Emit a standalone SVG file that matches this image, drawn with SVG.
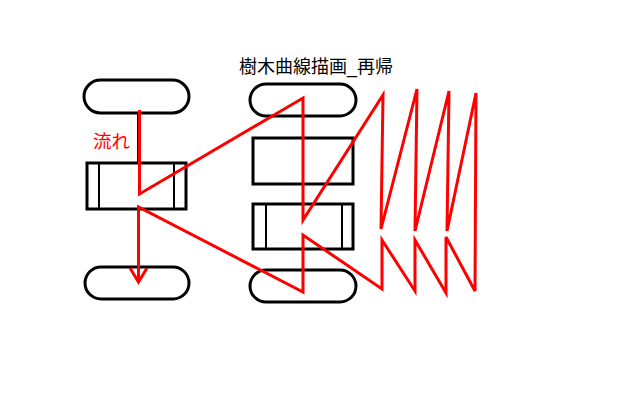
<svg xmlns="http://www.w3.org/2000/svg" width="638" height="400" viewBox="0 0 638 400">
<style>
.shape{fill:#fff;stroke:#000;stroke-width:3}
.inner{fill:none;stroke:#000;stroke-width:2}
.flow{fill:none;stroke:#f00;stroke-width:3;stroke-linejoin:miter;stroke-miterlimit:4}
.title{font-family:"Liberation Sans","Noto Sans CJK JP",sans-serif;font-size:18px;fill:#000}
.lbl{font-family:"Liberation Sans","Noto Sans CJK JP",sans-serif;font-size:18.5px;fill:#f00}
</style>
<rect width="638" height="400" fill="#fff"/>
<text class="title" x="316" y="73" text-anchor="middle">樹木曲線描画_再帰</text>
<g id="link-left">
<line x1="137.5" y1="113" x2="137.5" y2="163" stroke="#000" stroke-width="1"/>
</g>
<g id="left-start"><rect class="shape" x="84" y="80" width="105" height="33" rx="16.5"/></g>
<g id="left-process"><rect class="shape" x="87" y="163" width="99" height="46"/><line class="inner" x1="99" y1="163" x2="99" y2="209"/><line class="inner" x1="174" y1="163" x2="174" y2="209"/></g>
<g id="left-end"><rect class="shape" x="85" y="267" width="104" height="32" rx="16"/></g>
<g id="mid-start"><rect class="shape" x="250" y="84" width="106" height="32" rx="16"/></g>
<g id="mid-rect"><rect class="shape" x="253" y="138" width="100" height="46"/></g>
<g id="mid-process"><rect class="shape" x="253" y="204" width="100" height="45"/><line class="inner" x1="266" y1="204" x2="266" y2="249"/><line class="inner" x1="342" y1="204" x2="342" y2="249"/></g>
<g id="mid-end"><rect class="shape" x="250" y="270" width="106" height="32" rx="16"/></g>
<text class="lbl" x="93" y="148">流れ</text>
<g id="connectors">
<polyline class="flow" points="139.5,110 139.5,194 303,98 303,220 383,95 381,229 417,89 415,231 449,91 447,231 476,93 475,291 446,237 446,293 415,240 415,291 382,240 382,289 303,235 303,292 138.5,207 138.5,282"/>
<polyline class="flow" points="130,268 138.5,282 147,268"/>
</g>
</svg>
